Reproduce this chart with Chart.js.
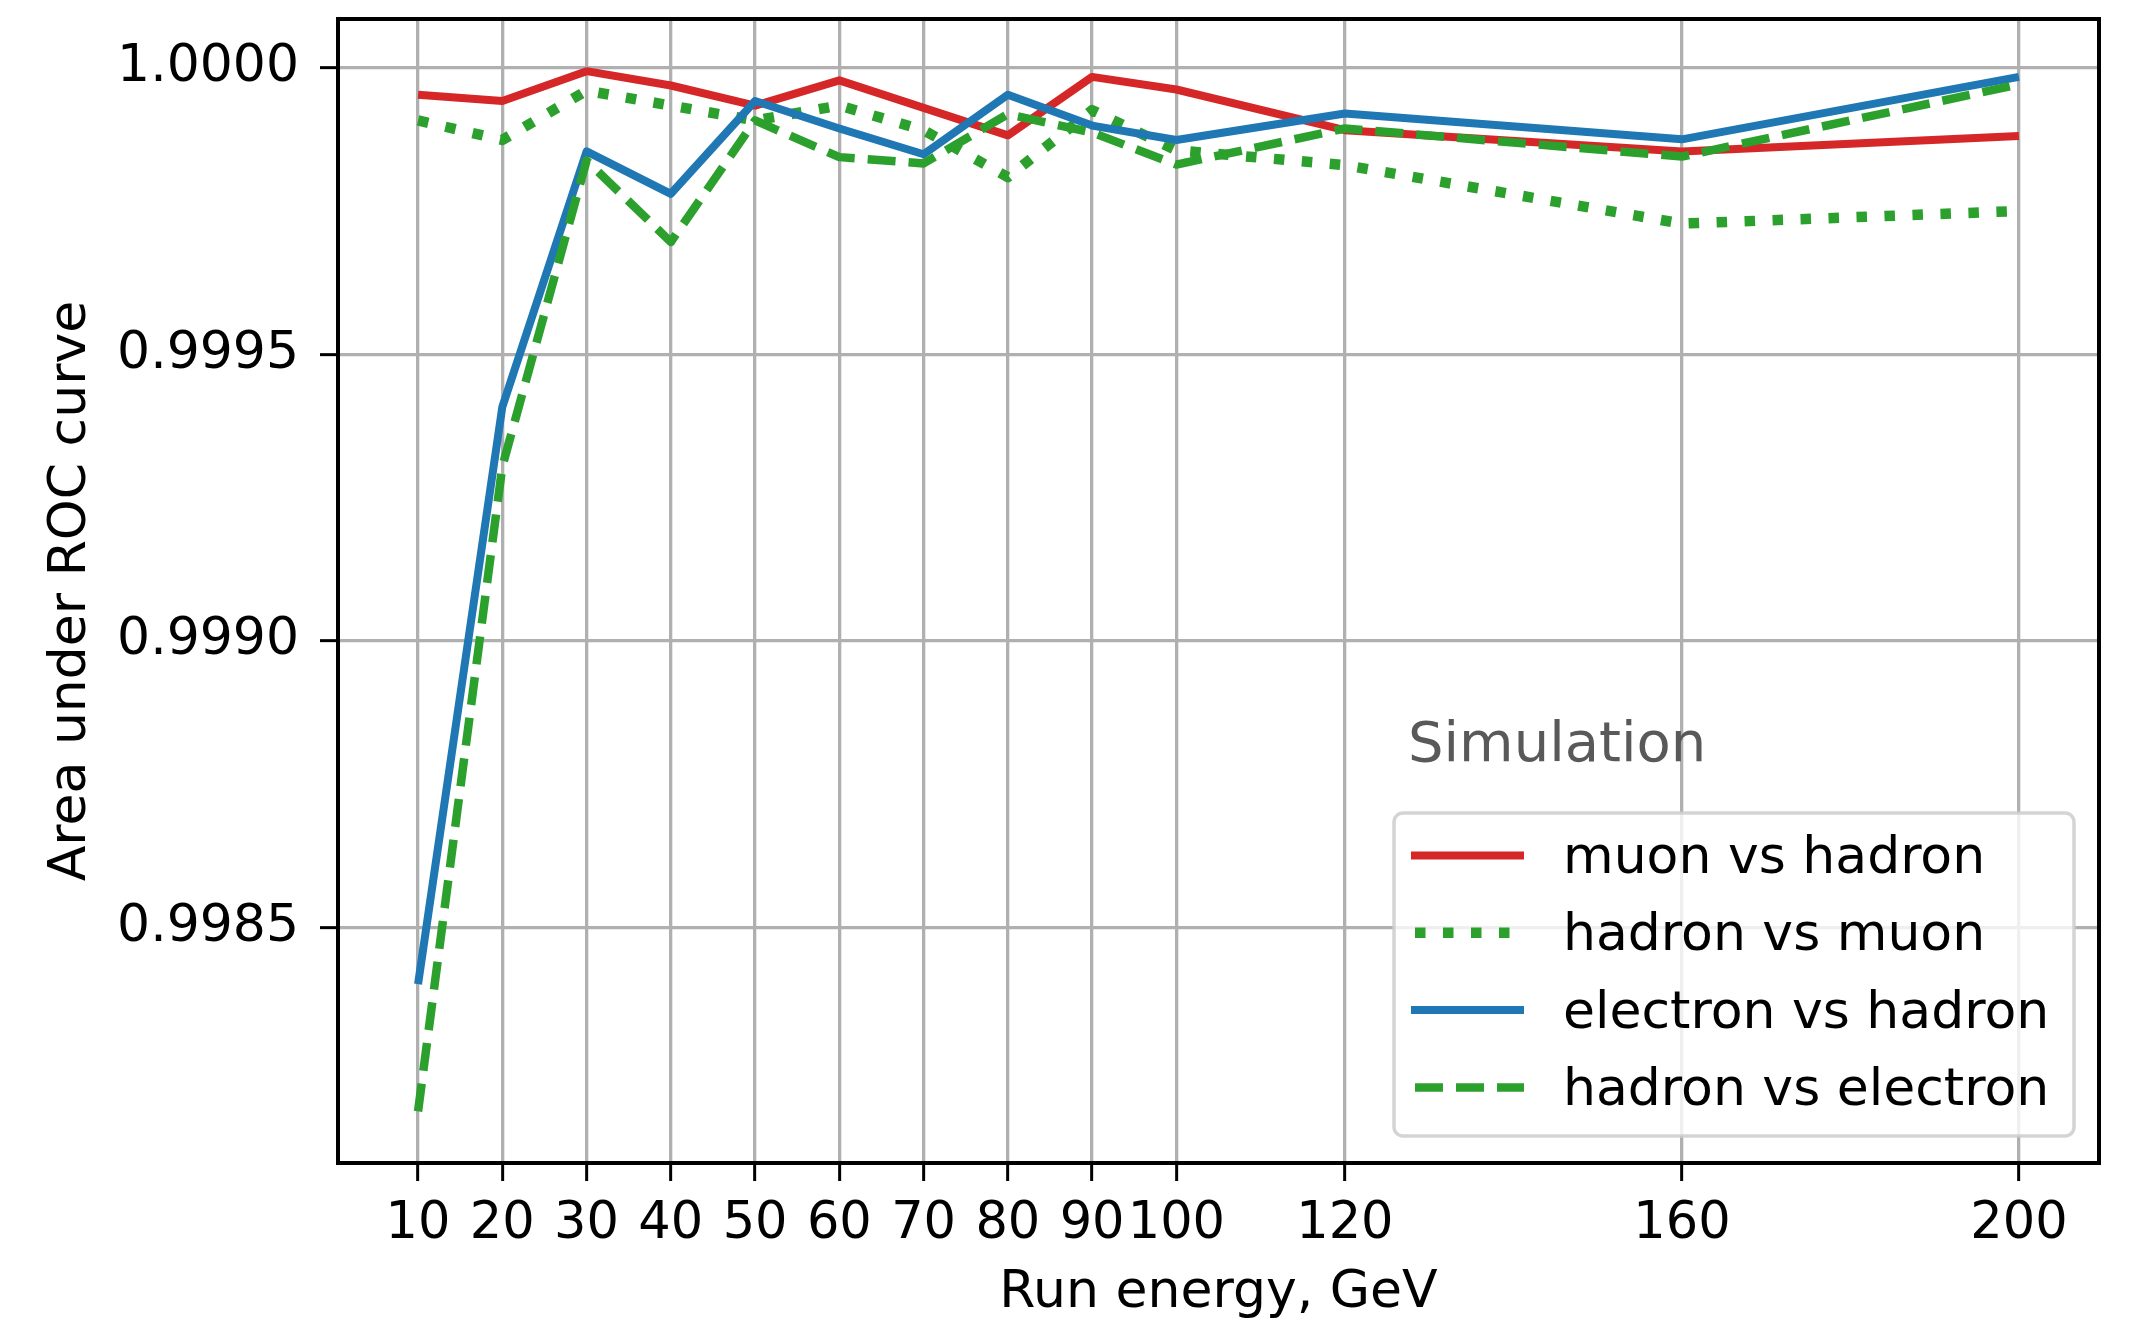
<!DOCTYPE html>
<html>
<head>
<meta charset="utf-8">
<title>Area under ROC curve</title>
<script src="https://cdn.jsdelivr.net/npm/chart.js@4.4.0/dist/chart.umd.min.js"></script>
<style>
  html, body { margin: 0; padding: 0; background: #fff; }
  canvas { display: block; }
</style>
</head>
<body>
<canvas id="rocChart" width="2137" height="1323"></canvas>
<script>
    // Run energies (GeV) and axis ticks
    const energies = [10, 20, 30, 40, 50, 60, 70, 80, 90, 100, 120, 160, 200];
    const xTicks = [10, 20, 30, 40, 50, 60, 70, 80, 90, 100, 120, 160, 200];
    const yTicks = [0.9985, 0.9990, 0.9995, 1.0000];

    // Area under ROC curve
    const muonVsHadron     = [0.999953, 0.999942, 0.999994, 0.999969, 0.999934, 0.999978, 0.999930, 0.999882, 0.999984, 0.999962, 0.999891, 0.999854, 0.999881];
    const hadronVsMuon     = [0.999908, 0.999874, 0.999960, 0.999934, 0.999908, 0.999934, 0.999891, 0.999809, 0.999926, 0.999856, 0.999830, 0.999728, 0.999750];
    const electronVsHadron = [0.998401, 0.999408, 0.999854, 0.999780, 0.999942, 0.999894, 0.999849, 0.999953, 0.999899, 0.999874, 0.999920, 0.999875, 0.999984];
    const hadronVsElectron = [0.998179, 0.999304, 0.999838, 0.999696, 0.999908, 0.999844, 0.999833, 0.999919, 0.999887, 0.999831, 0.999894, 0.999845, 0.999971];

    const seriesLabels = ['muon vs hadron', 'hadron vs muon', 'electron vs hadron', 'hadron vs electron'];
    const legendTitle = 'Simulation';

    const FONT = '"DejaVu Sans", "Liberation Sans", sans-serif';
    const toPoints = values => values.map((v, i) => ({ x: energies[i], y: v }));

    // Frame on all four sides + legend box in the lower right
    const framePlugin = {
      id: 'frame',
      afterDatasetsDraw(chart) {
        const { ctx, chartArea: a } = chart;
        ctx.save();
        ctx.strokeStyle = '#000';
        ctx.lineWidth = 4;
        ctx.strokeRect(a.left, a.top, a.right - a.left, a.bottom - a.top);
        ctx.restore();
      },
      afterDraw(chart) {
        const { ctx, chartArea: a } = chart;
        const left = a.right - 705, right = a.right - 25;
        const top = a.bottom - 350, bottom = a.bottom - 27;
        ctx.save();

        // title above the box
        ctx.font = '56px ' + FONT;
        ctx.fillStyle = '#595959';
        ctx.textBaseline = 'alphabetic';
        ctx.textAlign = 'left';
        ctx.fillText(legendTitle, left + 14, top - 52);

        // box
        ctx.beginPath();
        ctx.roundRect(left, top, right - left, bottom - top, 9);
        ctx.fillStyle = 'rgba(255,255,255,0.8)';
        ctx.fill();
        ctx.strokeStyle = 'rgba(204,204,204,0.85)';
        ctx.lineWidth = 3.5;
        ctx.stroke();

        // entries
        ctx.font = '52px ' + FONT;
        chart.data.datasets.forEach((ds, i) => {
          const base = top + 60 + i * 77.3;
          const ly = base - 17.5;
          ctx.beginPath();
          ctx.setLineDash(ds.borderDash || []);
          ctx.lineDashOffset = ds.borderDash.length ? -4 : 0;
          ctx.lineCap = 'butt';
          ctx.strokeStyle = ds.borderColor;
          ctx.lineWidth = ds.borderWidth;
          ctx.moveTo(left + 17, ly);
          ctx.lineTo(left + 130, ly);
          ctx.stroke();
          ctx.setLineDash([]);
          ctx.fillStyle = '#000';
          ctx.fillText(ds.label, left + 169, base);
        });
        ctx.restore();
      }
    };

    const lineStyle = (label, values, color, width, dash, order) => ({
      label: label,
      data: toPoints(values),
      borderColor: color,
      backgroundColor: color,
      borderWidth: width,
      borderDash: dash,
      borderCapStyle: 'butt',
      borderJoinStyle: 'round',
      pointRadius: 0,
      tension: 0,
      fill: false,
      order: order
    });

    new Chart(document.getElementById('rocChart'), {
      type: 'line',
      data: {
        datasets: [
          lineStyle(seriesLabels[0], muonVsHadron, '#d62728', 8, [], 3),
          lineStyle(seriesLabels[1], hadronVsMuon, '#2ca02c', 10.5, [10.5, 17.5], 2),
          lineStyle(seriesLabels[2], electronVsHadron, '#1f77b4', 8, [], 1),
          lineStyle(seriesLabels[3], hadronVsElectron, '#2ca02c', 8.5, [28, 13], 0)
        ]
      },
      options: {
        responsive: false,
        devicePixelRatio: 1,
        animation: false,
        layout: { padding: { top: 19, right: 38, left: 0, bottom: 0 } },
        plugins: {
          legend: { display: false },
          tooltip: { enabled: false }
        },
        scales: {
          x: {
            type: 'linear',
            min: 0.5,
            max: 209.5,
            afterBuildTicks: scale => { scale.ticks = xTicks.map(v => ({ value: v })); },
            afterFit: scale => {
              scale.height = 160;
              scale.paddingLeft = 0;
              scale.paddingRight = 0;
            },
            grid: { color: '#b0b0b0', lineWidth: 3.3, tickColor: '#000', tickLength: 18, tickWidth: 3 },
            border: { display: false },
            ticks: {
              color: '#000',
              font: { family: FONT, size: 51 },
              padding: 13,
              maxRotation: 0,
              autoSkip: false,
              callback: v => String(v)
            },
            title: {
              display: true,
              text: 'Run energy, GeV',
              color: '#000',
              font: { family: FONT, size: 52 },
              padding: { top: 0, bottom: -2 }
            }
          },
          y: {
            type: 'linear',
            min: 0.998089,
            max: 1.000085,
            afterBuildTicks: scale => { scale.ticks = yTicks.map(v => ({ value: v })); },
            afterFit: scale => {
              scale.width = 338;
              scale.paddingTop = 0;
              scale.paddingBottom = 0;
            },
            grid: { color: '#b0b0b0', lineWidth: 3.3, tickColor: '#000', tickLength: 18, tickWidth: 3 },
            border: { display: false },
            ticks: {
              color: '#000',
              font: { family: FONT, size: 52 },
              padding: 21,
              callback: v => Number(v).toFixed(4)
            },
            title: {
              display: true,
              text: 'Area under ROC curve',
              color: '#000',
              font: { family: FONT, size: 52 },
              padding: { top: 40, bottom: 0 }
            }
          }
        }
      },
      plugins: [framePlugin]
    });
</script>
</body>
</html>
